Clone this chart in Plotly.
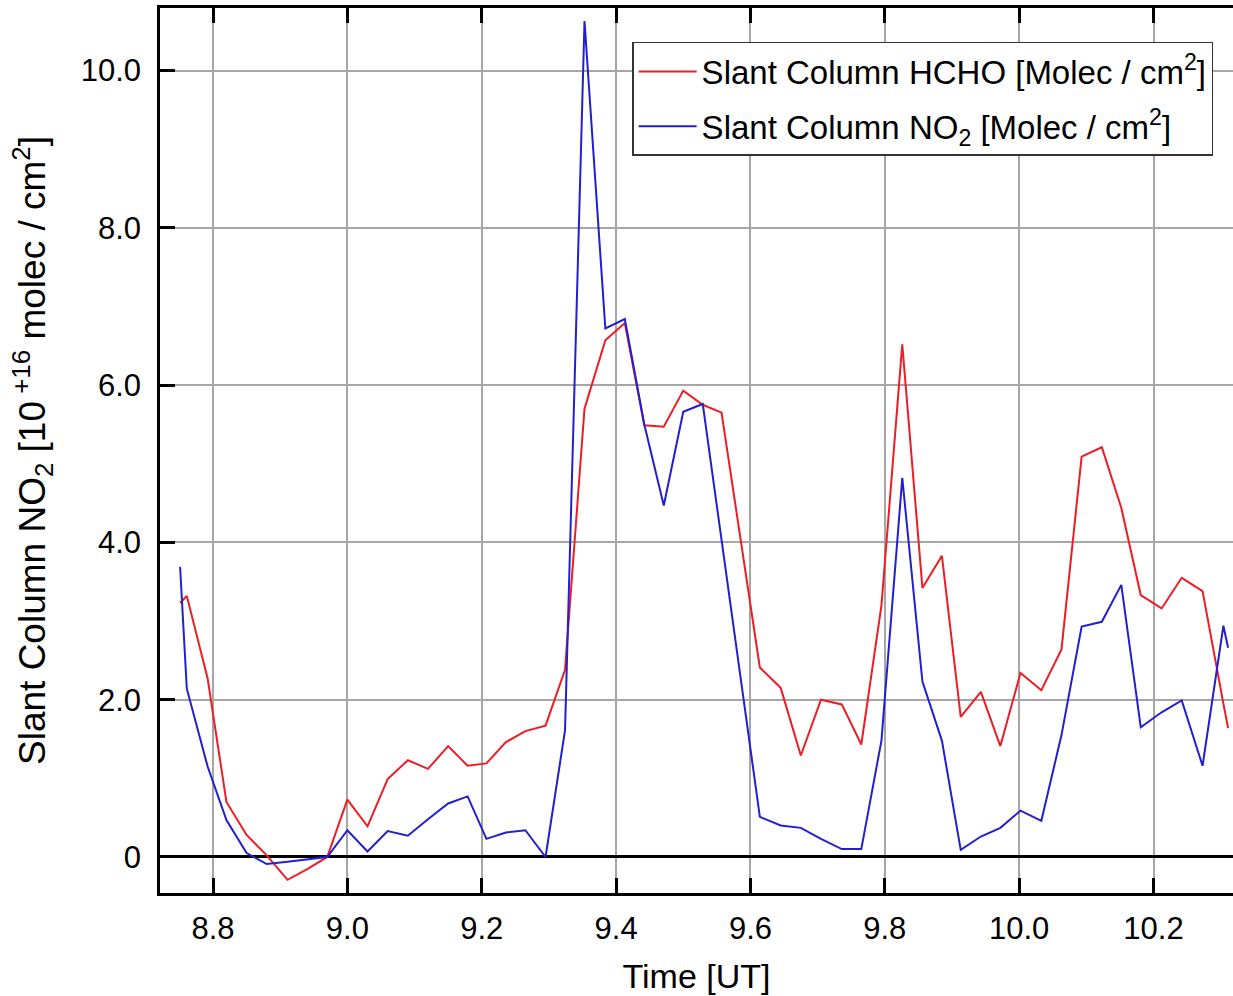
import plotly.graph_objects as go

# Measurement times (hours UT)
time_ut = [8.751, 8.761, 8.792, 8.820, 8.850, 8.880, 8.911, 8.941, 8.970, 9.000,
           9.030, 9.060, 9.090, 9.120, 9.150, 9.179, 9.207, 9.236, 9.265, 9.295,
           9.324, 9.353, 9.384, 9.413, 9.442, 9.471, 9.500, 9.529, 9.557, 9.586,
           9.614, 9.645, 9.675, 9.705, 9.736, 9.765, 9.795, 9.826, 9.856, 9.885,
           9.913, 9.943, 9.972, 10.002, 10.033, 10.063, 10.093, 10.123, 10.152, 10.181,
           10.212, 10.242, 10.273, 10.304, 10.311]

# Slant columns, 10^16 molec / cm^2
hcho = [3.23, 3.32, 2.27, 0.70, 0.28, 0.02, -0.29, -0.15, 0.00, 0.73,
        0.39, 0.99, 1.23, 1.12, 1.41, 1.16, 1.19, 1.46, 1.60, 1.67,
        2.38, 5.70, 6.57, 6.79, 5.49, 5.47, 5.93, 5.75, 5.65, 4.03,
        2.41, 2.15, 1.29, 2.00, 1.94, 1.43, 3.20, 6.52, 3.42, 3.83,
        1.78, 2.10, 1.41, 2.34, 2.12, 2.64, 5.09, 5.21, 4.44, 3.33,
        3.16, 3.55, 3.38, 1.95, 1.64]

no2 = [3.69, 2.14, 1.15, 0.47, 0.05, -0.09, -0.06, -0.03, 0.00, 0.34,
       0.07, 0.33, 0.27, 0.48, 0.68, 0.77, 0.23, 0.31, 0.34, 0.00,
       1.61, 10.63, 6.72, 6.84, 5.50, 4.47, 5.66, 5.76, 4.03, 2.30,
       0.51, 0.40, 0.37, 0.23, 0.10, 0.10, 1.48, 4.82, 2.23, 1.48,
       0.09, 0.26, 0.37, 0.59, 0.46, 1.55, 2.93, 2.99, 3.46, 1.65,
       1.84, 1.99, 1.16, 2.94, 2.66]

x_ticks = [8.8, 9.0, 9.2, 9.4, 9.6, 9.8, 10.0, 10.2]
x_ticktext = ["8.8", "9.0", "9.2", "9.4", "9.6", "9.8", "10.0", "10.2"]
y_ticks = [0, 2, 4, 6, 8, 10]
y_ticktext = ["0", "2.0", "4.0", "6.0", "8.0", "10.0"]

FONT = "Liberation Sans, Arial, Helvetica, sans-serif"

fig = go.Figure()
fig.add_trace(go.Scatter(
    x=time_ut, y=hcho, mode="lines",
    name="Slant Column HCHO [Molec / cm<sup>2</sup>]",
    legendgroup="hcho",
    line=dict(color="#ee1c24", width=2),
))
fig.add_trace(go.Scatter(
    x=time_ut, y=no2, mode="lines",
    name="Slant Column NO<sub>2</sub> [Molec / cm<sup>2</sup>]",
    legendgroup="no2",
    line=dict(color="#2020d0", width=2),
))

axis_common = dict(
    showline=True, linecolor="black", linewidth=2.5,
    showgrid=True, gridcolor="#a6a6a6", gridwidth=2,
    ticks="inside", ticklen=15, tickwidth=3, tickcolor="black",
    tickfont=dict(family=FONT, size=31, color="black"),
    automargin=False,
)

fig.update_layout(
    width=1233, height=996,
    margin=dict(l=160, r=0, t=8, b=103, autoexpand=False),
    paper_bgcolor="white", plot_bgcolor="white",
    showlegend=True,
    legend=dict(
        x=0.44, y=0.9616, xanchor="left", yanchor="top",
        bgcolor="white", bordercolor="#333333", borderwidth=1.5,
        font=dict(family=FONT, size=33, color="black"),
        itemwidth=58, tracegroupgap=9,
    ),
    xaxis=dict(
        range=[8.7211, 10.3183],
        tickvals=x_ticks, ticktext=x_ticktext,
        mirror="allticks", zeroline=False,
        ticklabelstandoff=6,
        title=dict(text="Time [UT]", font=dict(family=FONT, size=34, color="black"),
                   standoff=20),
        **axis_common,
    ),
    yaxis=dict(
        range=[-0.458, 10.795],
        tickvals=y_ticks, ticktext=y_ticktext,
        mirror=False,
        zeroline=True, zerolinecolor="black", zerolinewidth=3,
        ticklabelstandoff=10,
        title=dict(text="Slant Column NO<sub>2</sub> [10<sup> +16</sup> molec / cm<sup>2</sup>]",
                   font=dict(family=FONT, size=37, color="black"), standoff=24),
        **axis_common,
    ),
)

fig.write_html("out.html")
